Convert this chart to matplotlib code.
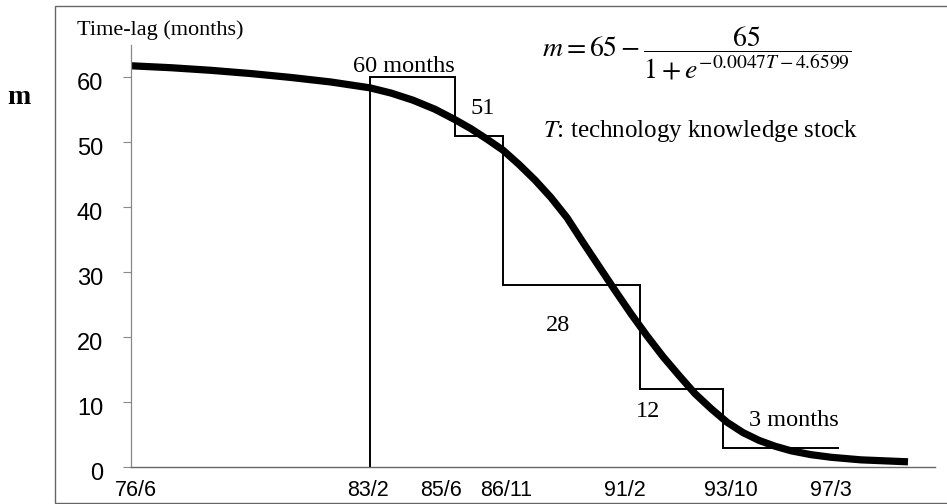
import matplotlib
matplotlib.use("Agg")
import matplotlib.pyplot as plt
from matplotlib.patches import Rectangle
from matplotlib.transforms import ScaledTranslation

plt.rcParams["mathtext.fontset"] = "stix"

# Horizontal positions are in layout units along the time axis
date_labels = ["76/6", "83/2", "85/6", "86/11", "91/2", "93/10", "97/3"]
date_pos = [5, 237, 310, 375, 494, 600, 700]

# Stepwise time-lag between periods (months)
step_edges = [239, 324, 372, 509, 592, 707]
step_values = [60, 51, 28, 12, 3]
step_labels = ["60 months", "51", "28", "12", "3 months"]
step_label_pos = [(273, 61.7), (352, 55.2), (427, 21.8), (517, 8.5), (663, 7.2)]

# Fitted logistic time-lag curve
curve_x = [0, 40, 80, 120, 160, 200, 239, 260, 282, 304, 324, 340, 356,
           372, 388, 404, 420, 436, 452, 468, 484, 500, 516, 532, 548,
           564, 580, 596, 612, 628, 644, 660, 680, 700, 730, 777]
curve_m = [61.8, 61.5, 61.1, 60.6, 60.0, 59.3, 58.4, 57.6, 56.5, 55.1,
           53.5, 52.1, 50.5, 48.8, 46.6, 44.2, 41.5, 38.4, 34.6, 30.9,
           27.2, 23.6, 20.2, 17.0, 14.1, 11.3, 9.0, 6.9, 5.3, 4.1, 3.2,
           2.5, 1.9, 1.5, 1.1, 0.8]

y_ticks = [0, 10, 20, 30, 40, 50, 60]

W, H = 947, 504
fig = plt.figure(figsize=(W / 100, H / 100), dpi=100)
ax = fig.add_axes([131 / W, (H - 467) / H, (935 - 131) / W, (467 - 45) / H])
ax.set_xlim(0, 804)
ax.set_ylim(0, 65)

# step polyline
sx, sy = [step_edges[0]], [0]
for i, v in enumerate(step_values):
    sx += [step_edges[i], step_edges[i + 1]]
    sy += [v, v]
    if i + 1 < len(step_values):
        sx.append(step_edges[i + 1])
        sy.append(step_values[i + 1])
ax.plot(sx, sy, color="black", lw=1.4, solid_joinstyle="miter")

ax.plot(curve_x, curve_m, color="black", lw=5.2, solid_capstyle="butt",
        solid_joinstyle="round")

for txt, (x, y) in zip(step_labels, step_label_pos):
    ax.text(x, y, txt, family="Liberation Serif", fontsize=17.5,
            ha="center", va="center")

for s in ["top", "right"]:
    ax.spines[s].set_visible(False)
ax.spines["left"].set_color("#888888")
ax.spines["bottom"].set_color("#666666")
ax.spines["left"].set_linewidth(0.9)
ax.spines["bottom"].set_linewidth(1.0)

ax.set_yticks(y_ticks)
ax.set_yticklabels([str(v) for v in y_ticks], family="Liberation Sans", fontsize=17)
ax.tick_params(axis="y", direction="out", length=6, width=0.8, color="#888888", pad=14)
shift = ScaledTranslation(0, -4 / 100, fig.dpi_scale_trans)
for lab in ax.get_yticklabels():
    lab.set_transform(lab.get_transform() + shift)

ax.set_xticks(date_pos)
ax.set_xticklabels(date_labels, family="Liberation Sans", fontsize=15.5)
ax.tick_params(axis="x", length=0, pad=9)

# annotations in figure space
fig.text(77 / W, (H - 35) / H, "Time-lag (months)", family="Liberation Serif",
         fontsize=16, ha="left", va="baseline")
fig.text(19 / W, (H - 98) / H, "m", family="Liberation Serif", weight="bold",
         fontsize=20, ha="center", va="center")
fig.text(542 / W, (H - 53) / H,
         r"$m = 65 - \dfrac{65}{1 + e^{-0.0047T - 4.6599}}$",
         fontsize=20, ha="left", va="center")
fig.text(543 / W, (H - 137) / H, r"$T$: technology knowledge stock",
         family="Liberation Serif", fontsize=18, ha="left", va="baseline")

fig.patches.append(Rectangle((55 / W, 1 / H), 1.0, (H - 7) / H,
                             transform=fig.transFigure, fill=False,
                             edgecolor="#666666", lw=1.0))

fig.savefig("out.png", dpi=100)
